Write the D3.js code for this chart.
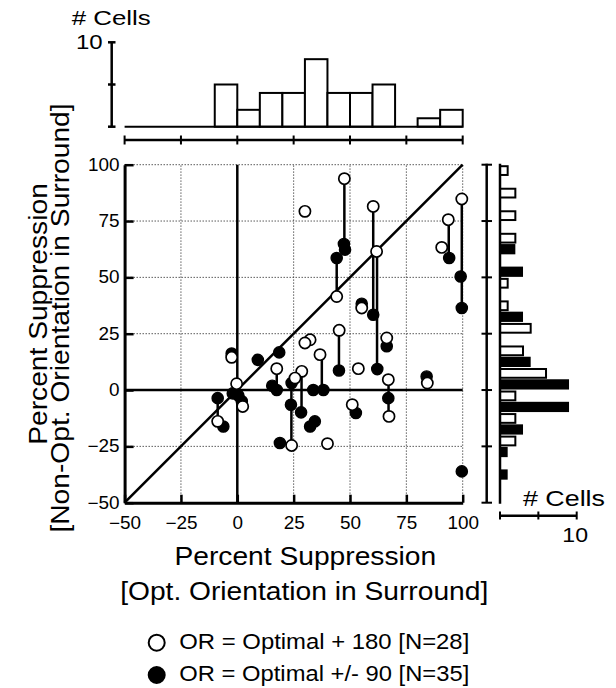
<!DOCTYPE html>
<html>
<head>
<meta charset="utf-8">
<script src="https://cdn.jsdelivr.net/npm/d3@7"></script>
<style>
body { margin: 0; background: #fff; }
text { font-family: "Liberation Sans", Arial, Helvetica, sans-serif; fill: #000; }
</style>
</head>
<body>
<svg id="chart" width="616" height="688"></svg>
<script>
// open circles: OR = Optimal + 180
var openX = [47.5, 30, 60.3, 99.6, 93.6, 90.7, 61.8, 44.1, 55.2, 45.2, 66.3, 32.3, 30, 36.7, -2.5, 53.7, 17.5, 28.6, 25.6, 67, 84.3, -0.3, 51, 2.4, 67.3, -8.7, 24.1, 40];
var openY = [93.8, 79.3, 81.5, 84.8, 75.6, 63.3, 61.5, 41.5, 36.4, 26.5, 23.1, 22.3, 20.9, 15.7, 14.5, 9.5, 9.5, 8.3, 5.3, 4.6, 3.1, 2.8, -6.5, -7.3, -11.7, -13.9, -24.6, -23.8];

// filled circles: OR = Optimal +/- 90
var filledX = [47.3, 47.8, 44.1, 94, 99.1, 55.2, 99.6, 60.3, 66.3, 18.6, 9.1, -2.5, 45.1, 62.1, 84, 24.1, 15.5, 17.5, 33.7, 38.2, -2, 0.5, 2, -8.7, 67, 23.8, 28.3, 52.6, 34.4, 32.3, -6.2, 18.9, 99.6];
var filledY = [64.8, 62.3, 58.6, 58.6, 50.4, 38.3, 36.4, 33.4, 19.4, 16.7, 13.4, 16.2, 8.7, 9.3, 6, 3.1, 1.9, 0, 0, 0, -1.5, -2.5, -5, -3.6, -3.6, -6.5, -9.9, -10.2, -13.9, -16.2, -16.2, -23.5, -36.1];

// vertical links between the two measures of one cell
var linkX  = [47.5, 44.1, 60.3, 62, 93.8, 99.6, 45.1, 66.3, 67.1, 37.5, 17.5, 28.5, 24, -8.7];
var linkY1 = [93.8, 58.6, 81.5, 61.5, 75.6, 84.8, 26.5, 23.1, 4.6, 15.7, 9.5, 8.3, 3.1, -3.6];
var linkY2 = [63.5, 41.5, 33.4, 9.3, 58.6, 36.4, 8.7, 19.4, -11.7, 0, 0, -9.9, -24.6, -13.9];

// histograms, bins of 10 starting at -50
var binStarts = [-50, -40, -30, -20, -10, 0, 10, 20, 30, 40, 50, 60, 70, 80, 90];
var topCounts = [0, 0, 0, 0, 5, 2, 4, 4, 8, 4, 4, 5, 0, 1, 2];
var rightOpen = [0, 0, 2, 2, 2, 6, 3, 4, 1, 1, 0, 2, 2, 2, 1];
var rightFilled = [0, 1, 1, 3, 9, 9, 4, 0, 3, 0, 3, 2, 0, 0, 0];

var ticks = [-50, -25, 0, 25, 50, 75, 100];
var gridVals = [-25, 25, 50, 75, 100];
var countTicks = [0, 5, 10];

var svg = d3.select("#chart");

var x = d3.scaleLinear().domain([-50, 100]).range([124.6, 462.7]);
var y = d3.scaleLinear().domain([-50, 100]).range([502.7, 164.7]);
var topY = d3.scaleLinear().domain([0, 10]).range([126.7, 42.3]);
var rightX = d3.scaleLinear().domain([0, 10]).range([500, 576.7]);

function fmt(d) { return d < 0 ? "\u2212" + Math.abs(d) : "" + d; }

// widen text a bit, the original lettering is broad
function stretch(sel, k) {
  sel.each(function() {
    var len = this.getComputedTextLength();
    this.setAttribute("textLength", len * k);
    this.setAttribute("lengthAdjust", "spacingAndGlyphs");
  });
}

//************** main scatter

var grid = svg.append("g").attr("stroke", "#333").attr("stroke-width", 1).attr("stroke-dasharray", "1.2,1.8");
grid.selectAll(".gv").data(gridVals).enter().append("line")
  .attr("x1", d => x(d)).attr("x2", d => x(d))
  .attr("y1", y(-50)).attr("y2", y(100));
grid.selectAll(".gh").data(gridVals).enter().append("line")
  .attr("y1", d => y(d)).attr("y2", d => y(d))
  .attr("x1", x(-50)).attr("x2", x(100));

svg.append("line").attr("x1", x(0)).attr("x2", x(0)).attr("y1", y(-50)).attr("y2", y(100))
  .attr("stroke", "#000").attr("stroke-width", 2.5);
svg.append("line").attr("x1", x(-50)).attr("x2", x(100)).attr("y1", y(0)).attr("y2", y(0))
  .attr("stroke", "#000").attr("stroke-width", 2.5);
svg.append("line").attr("x1", x(-50)).attr("y1", y(-50)).attr("x2", x(100)).attr("y2", y(100))
  .attr("stroke", "#000").attr("stroke-width", 2.5);

var yAxis = svg.append("g")
  .attr("transform", "translate(" + x(-50) + ",0)")
  .call(d3.axisLeft(y).tickValues(ticks).tickSize(-9).tickSizeOuter(0).tickPadding(5).tickFormat(fmt));
var xAxis = svg.append("g")
  .attr("transform", "translate(0," + y(-50) + ")")
  .call(d3.axisBottom(x).tickValues(ticks).tickSize(-8).tickSizeOuter(0).tickPadding(14).tickFormat(fmt));

[yAxis, xAxis].forEach(function(a) {
  a.select(".domain").attr("stroke", "#000").attr("stroke-width", 3);
  a.selectAll(".tick line").attr("stroke", "#000").attr("stroke-width", 2.5);
  a.selectAll(".tick text").attr("font-size", 17.5).attr("fill", "#000").attr("font-family", null);
  stretch(a.selectAll(".tick text"), 1.08);
});

var links = d3.range(linkX.length);
svg.append("g").selectAll("line").data(links).enter().append("line")
  .attr("x1", i => x(linkX[i])).attr("x2", i => x(linkX[i]))
  .attr("y1", i => y(linkY1[i])).attr("y2", i => y(linkY2[i]))
  .attr("stroke", "#000").attr("stroke-width", 2.5);

svg.append("g").selectAll("circle").data(d3.range(filledX.length)).enter().append("circle")
  .attr("cx", i => x(filledX[i])).attr("cy", i => y(filledY[i])).attr("r", 5.6)
  .attr("fill", "#000").attr("stroke", "#000").attr("stroke-width", 1.4);

svg.append("g").selectAll("circle").data(d3.range(openX.length)).enter().append("circle")
  .attr("cx", i => x(openX[i])).attr("cy", i => y(openY[i])).attr("r", 5.6)
  .attr("fill", "#fff").attr("stroke", "#000").attr("stroke-width", 1.7);

//************** top histogram

var topBins = d3.range(binStarts.length).filter(i => topCounts[i] > 0);
svg.append("g").selectAll("rect").data(topBins).enter().append("rect")
  .attr("x", i => x(binStarts[i])).attr("width", i => x(binStarts[i] + 10) - x(binStarts[i]))
  .attr("y", i => topY(topCounts[i])).attr("height", i => topY(0) - topY(topCounts[i]))
  .attr("fill", "#fff").attr("stroke", "#000").attr("stroke-width", 2);
svg.append("line").attr("x1", x(-50)).attr("x2", x(100)).attr("y1", topY(0)).attr("y2", topY(0))
  .attr("stroke", "#000").attr("stroke-width", 2);

// bin axis under the top histogram
svg.append("line").attr("x1", x(-50)).attr("x2", x(100)).attr("y1", 140).attr("y2", 140)
  .attr("stroke", "#000").attr("stroke-width", 2.5);
svg.append("g").selectAll("line").data(ticks).enter().append("line")
  .attr("x1", d => x(d)).attr("x2", d => x(d)).attr("y1", 135.5).attr("y2", 144.5)
  .attr("stroke", "#000").attr("stroke-width", 2);

// count axis
svg.append("line").attr("x1", 111.7).attr("x2", 111.7).attr("y1", topY(0)).attr("y2", topY(10))
  .attr("stroke", "#000").attr("stroke-width", 2.5);
svg.append("g").selectAll("line").data(countTicks).enter().append("line")
  .attr("x1", 108).attr("x2", 115.5).attr("y1", d => topY(d)).attr("y2", d => topY(d))
  .attr("stroke", "#000").attr("stroke-width", 2.5);
svg.append("text").attr("x", 102.7).attr("y", 48.5).attr("text-anchor", "end")
  .attr("font-size", 20).text("10").call(stretch, 1.2);
svg.append("text").attr("x", 71.7).attr("y", 25).attr("font-size", 21)
  .text("# Cells").attr("textLength", 79).attr("lengthAdjust", "spacingAndGlyphs");

//************** right histogram

svg.append("line").attr("x1", 486.7).attr("x2", 486.7).attr("y1", y(100) - 1).attr("y2", y(-50))
  .attr("stroke", "#000").attr("stroke-width", 2.5);
svg.append("g").selectAll("line").data(ticks).enter().append("line")
  .attr("x1", 481.5).attr("x2", 492).attr("y1", d => y(d)).attr("y2", d => y(d))
  .attr("stroke", "#000").attr("stroke-width", 2);

var half = (y(0) - y(5));
var rOpen = d3.range(binStarts.length).filter(i => rightOpen[i] > 0);
var rFilled = d3.range(binStarts.length).filter(i => rightFilled[i] > 0);
svg.append("g").selectAll("rect").data(rOpen).enter().append("rect")
  .attr("x", rightX(0)).attr("width", i => rightX(rightOpen[i]) - rightX(0))
  .attr("y", i => y(binStarts[i] + 10) + 1.5).attr("height", half - 2.5)
  .attr("fill", "#fff").attr("stroke", "#000").attr("stroke-width", 2);
svg.append("g").selectAll("rect").data(rFilled).enter().append("rect")
  .attr("x", rightX(0)).attr("width", i => rightX(rightFilled[i]) - rightX(0))
  .attr("y", i => y(binStarts[i] + 5) + 0.5).attr("height", half - 1)
  .attr("fill", "#000");
svg.append("line").attr("x1", rightX(0)).attr("x2", rightX(0)).attr("y1", y(100) - 1).attr("y2", y(-50) + 1)
  .attr("stroke", "#000").attr("stroke-width", 2.5);

svg.append("line").attr("x1", rightX(0)).attr("x2", rightX(10)).attr("y1", 515.7).attr("y2", 515.7)
  .attr("stroke", "#000").attr("stroke-width", 2.5);
svg.append("g").selectAll("line").data(countTicks).enter().append("line")
  .attr("x1", d => rightX(d)).attr("x2", d => rightX(d)).attr("y1", 511.5).attr("y2", 519.5)
  .attr("stroke", "#000").attr("stroke-width", 2);
svg.append("text").attr("x", 523).attr("y", 505.7).attr("font-size", 22)
  .text("# Cells").attr("textLength", 82).attr("lengthAdjust", "spacingAndGlyphs");
svg.append("text").attr("x", rightX(10) - 1.5).attr("y", 541.7).attr("text-anchor", "middle")
  .attr("font-size", 21).text("10").call(stretch, 1.1);

//************** titles and legend

svg.append("text").attr("x", 305.3).attr("y", 565).attr("text-anchor", "middle").attr("font-size", 25.5)
  .text("Percent Suppression").call(stretch, 1.105);
svg.append("text").attr("x", 304.2).attr("y", 600).attr("text-anchor", "middle").attr("font-size", 25.5)
  .text("[Opt. Orientation in Surround]").call(stretch, 1.105);

svg.append("text").attr("transform", "translate(47,314) rotate(-90)").attr("text-anchor", "middle")
  .attr("font-size", 25.5).text("Percent Suppression").call(stretch, 1.105);
svg.append("text").attr("transform", "translate(69,318) rotate(-90)").attr("text-anchor", "middle")
  .attr("font-size", 25.5).text("[Non-Opt. Orientation in Surround]").call(stretch, 1.105);

var legendLabels = ["OR = Optimal + 180 [N=28]", "OR = Optimal +/- 90 [N=35]"];
var legendFill = ["#fff", "#000"];
var legendY = [642.7, 675];
var lg = svg.append("g").selectAll("g").data(legendLabels).enter().append("g");
lg.append("circle").attr("cx", 156.7).attr("cy", (d, i) => legendY[i]).attr("r", 8)
  .attr("fill", (d, i) => legendFill[i]).attr("stroke", "#000").attr("stroke-width", 2);
lg.append("text").attr("x", 179.3).attr("y", (d, i) => legendY[i] + 5.8).attr("font-size", 22)
  .text(d => d).attr("textLength", 290).attr("lengthAdjust", "spacingAndGlyphs");
</script>
</body>
</html>
